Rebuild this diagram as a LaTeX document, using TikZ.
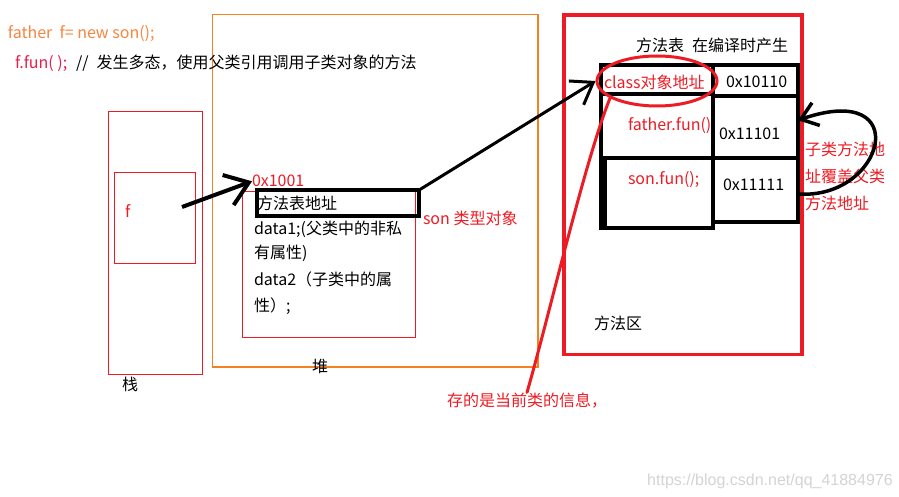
\documentclass[tikz,border=0pt]{standalone}
\usepackage{fontspec}
\setmainfont{Noto Sans CJK SC}
\newfontfamily\wmfont{Liberation Sans}
\usetikzlibrary{arrows.meta,shapes.geometric}
\definecolor{pred}{HTML}{ED1C24}
\definecolor{pink}{HTML}{E91E4C}
\definecolor{porange}{HTML}{F58220}
\definecolor{torange}{HTML}{F7863F}
\definecolor{wm}{HTML}{D4D4D4}
\begin{document}
\begin{tikzpicture}[x=1pt,y=-1pt,
  txt/.style={anchor=base west, inner sep=0pt, outer sep=0pt, font=\fontsize{16}{18}\selectfont},
  rtxt/.style={txt, text=pred},
  box/.style={anchor=north west, inner sep=0pt, outer sep=0pt},
  thinred/.style={box, draw=pred, line width=1.2pt},
  tbl/.style={box, draw=black, line width=4pt}
]
\fill[white] (0,0) rectangle (899,497);
\path[use as bounding box] (0,0) rectangle (899,497);

% containers
\node[box, draw=porange, line width=1.3pt, minimum width=325.5, minimum height=352.5] (heap) at (212.5,14.5) {};
\node[thinred, minimum width=94, minimum height=263] (stack) at (108.5,111.5) {};
\node[thinred, minimum width=81.4, minimum height=91] (fbox) at (114.3,172.3) {};
\node[thinred, minimum width=173, minimum height=145.6] (obj) at (242.3,191.7) {};
\node[box, draw=black, line width=4pt, minimum width=161.7, minimum height=25.9] (mtaddr) at (257,190.3) {};
\node[box, draw=pred, line width=3.3pt, minimum width=238, minimum height=339.5] (marea) at (564,15) {};

% method table
\node[tbl, minimum width=112, minimum height=29] (lc1) at (601,65) {};
\node[tbl, minimum width=112, minimum height=64] (lc2) at (601,94) {};
\node[tbl, minimum width=112, minimum height=70] (lc3) at (601,158) {};
\node[tbl, minimum width=85, minimum height=31.5] (rc1) at (713,65) {};
\node[tbl, minimum width=85, minimum height=61.5] (rc2) at (713,96.5) {};
\node[tbl, minimum width=85, minimum height=64] (rc3) at (713,158) {};
\draw[line width=5pt] (lc3.north west) ++(3,0) -- ++(0,72);

% texts
\node[txt, text=torange] (decl) at (8,39) {father\ \ f= new son();};
\node[txt, text=pink] (call) at (15,69) {f.fun( );};
\node[txt] (comment) at (76,69) {//\hspace{8pt}发生多态，使用父类引用调用子类对象的方法};
\node[txt] (stacklbl) at (122,390) {栈};
\node[rtxt] (fvar) at (125,217) {f};
\node[rtxt] (addr) at (252,187) {0x1001};
\node[txt] (mtxt) at (257,209) {方法表地址};
\node[txt] (d1) at (254,234) {data1;(父类中的非私};
\node[txt] (d1b) at (254,258) {有属性)};
\node[txt] (d2) at (254,285) {data2（子类中的属};
\node[txt] (d2b) at (254,311) {性）;};
\node[txt] (heaplbl) at (312,372) {堆};
\node[rtxt] (sontype) at (423,224) {son 类型对象};
\node[txt] (mthead) at (636,52) {方法表\hspace{8pt}在编译时产生};
\node[rtxt] (classtxt) at (604,89) {class对象地址};
\node[txt] (a1) at (726,88) {0x10110};
\node[rtxt] (ffun) at (628,131) {father.fun()};
\node[txt] (a2) at (719,140) {0x11101};
\node[rtxt] (sfun) at (628,185) {son.fun();};
\node[txt] (a3) at (723,191) {0x11111};
\node[rtxt] (ov1) at (805,156) {子类方法地};
\node[rtxt] (ov2) at (805,183) {址覆盖父类};
\node[rtxt] (ov3) at (805,209) {方法地址};
\node[txt] (arealbl) at (594,329) {方法区};
\node[rtxt] (note) at (447,406) {存的是当前类的信息，};
\node[anchor=base west, inner sep=0pt, font=\wmfont\fontsize{16}{18}\selectfont, text=wm] (wmark) at (647,485) {https://blog.csdn.net/qq\_41884976};

% red ring and annotation stroke
\node[ellipse, draw=pred, line width=3pt, minimum width=120, minimum height=50, inner sep=0pt] (classring) at (657,81) {};
\draw[pred, line width=3pt, line cap=round] (classring.200) .. controls (585,160) and (548,320) .. (note.north);

% arrows
\coordinate (fref) at (182,207);
\draw[line width=4pt, -{Straight Barb[length=22pt,width=32pt]}] (fref) -- (addr.west);
\draw[line width=3pt, -{Straight Barb[length=20pt,width=28pt]}] (mtaddr.north east) -- (classring.west);
\draw[line width=3.5pt, -{Straight Barb[length=16pt,width=24pt]}] ([yshift=-4pt]rc3.east) .. controls (885,200) and (915,80) .. ([yshift=7pt]rc2.east);
\end{tikzpicture}
\end{document}
